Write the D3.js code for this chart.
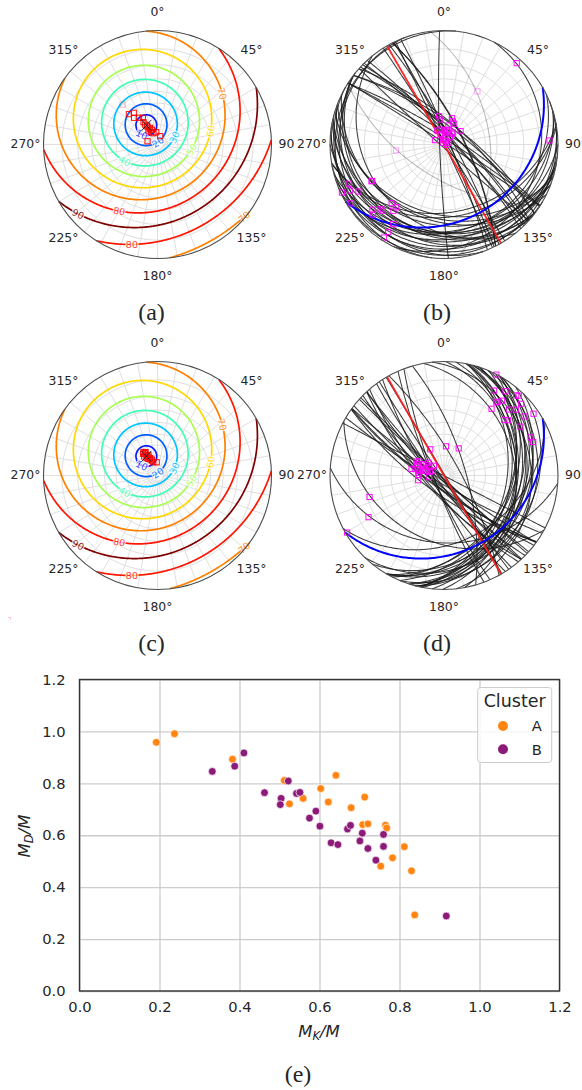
<!DOCTYPE html>
<head>
   <meta charset="utf-8">
   <script src="https://d3js.org/d3.v7.min.js"></script>
   <style>
   body{ margin: 0; background: #fff; }
   text{ font-family: "DejaVu Sans", sans-serif; fill: #262626; }
   text.angle{ font-size: 12.4px; text-anchor: middle; dominant-baseline: central; }
   text.caption{ font-family: "Liberation Serif", serif; font-size: 24px; text-anchor: middle; }
   text.clabel{ font-size: 9.5px; text-anchor: middle; dominant-baseline: central; opacity: 0.8;
      stroke: #fff; stroke-width: 2.5px; paint-order: stroke; }
   .tick text{ font-size: 14.7px; }
   .tick line{ stroke: #cccccc; stroke-width: 1.3px; }
   path.domain{ display: none; }
   </style>
</head>

<body>
   <script>
// pole of the fitted plane, used for the cross and the contours
const mainTrend = 330, mainColat = 22;
const redTrend = 60, redColat = 90;

// contours: cone angle round the pole, printed level, colour
const cones = [10, 20, 30, 40, 50, 60, 70, 80, 90, 100, 110];
const levels = [10, 20, 30, 40, 50, 60, 70, 80, 90, 80, 70];
const levelColors = ['#0a1cff', '#0060ff', '#00c4ff', '#40ffb4', '#a8ff50', '#ffd800', '#ff8000', '#ff1500', '#800000', '#ff1500', '#ff8000'];

// where the contour labels sit (index into cones, then trend / colatitude)
const labelCone = [0, 1, 2, 3, 4, 5, 6, 10, 7, 9, 8];
const labelTrend = [302.6, 0, 65, 243, 98.8, 76, 52, 130, 209.7, 194.3, 228.7];
const labelColat = [18.6, 3, 17.6, 36.2, 33.9, 50.9, 71.9, 88.9, 67.9, 84.6, 85.4];

const gridRings = [10, 20, 30, 40, 50, 60, 70, 80];
const gridSpokes = d3.range(0, 360, 10);
const angleLabels = [0, 45, 90, 135, 180, 225, 270, 315];

// (a) red squares
const aTrend = [318.8, 316.6, 323.2, 318.8, 325, 331.2, 328, 328, 331, 333, 333, 354, 18, 288, 330.7, 336, 327, 339, 340.6];
const aColat = [49.9, 40.2, 38.3, 34.6, 32, 29.9, 26, 23.3, 20.5, 17.6, 13.9, 12.4, 8.8, 10.5, 21.6, 18.2, 16.6, 15.7, 12];
const aFaint = [0];

// (c) red squares
const cTrend = [342.4, 356.5, 328, 330.6, 332, 334, 335, 338.6, 326.6, 329, 333, 337, 340, 325, 331, 336];
const cColat = [13.9, 13.3, 20.3, 25.4, 23, 20.8, 17.8, 15.9, 25.6, 27, 26, 19, 17, 23, 19, 22];
const cFaint = [];

// (b) plane poles, first the rim ones then the centre cluster
const bTrend = [41.8, 32.2, 87.8, 262.9, 243.1, 243.1, 247.6, 244.8, 243.9, 241.2, 237.8, 227.6, 225.5, 224.4, 222.8, 221.7, 217.3, 217.4, 212.5, 212.5, 212.8,
   350, 351, 17, 21, 13, 26, 0, 15, 36, 51, 334, 296, 342, 9, 338, 96, 39, 345, 30, 349, 70, 6, 11, 37, 20];
const bColat = [87.5, 57.6, 85.6, 46, 70.4, 71, 84.3, 89.4, 85.1, 81.1, 88.1, 80.7, 82.5, 76.9, 76.7, 69.2, 69.4, 72.4, 79.3, 84.6, 88.3,
   28.3, 25, 27.1, 24.5, 19.4, 22.9, 14, 12.7, 13.2, 21.2, 15.5, 10, 10.8, 6.4, 1.8, 2.7, 9.4, 15.5, 4, 5, 5, 9, 15, 15, 15];
const bFaint = [1, 3];

// (d) plane poles
const dTrend = [27.4, 30.5, 36.1, 42, 43.1, 47.1, 37.8, 36, 35.6, 35.5, 44.6, 47.5, 55.4, 53.7, 47.3, 49.2, 57.4, 66.2, 69.4,
   332.3, 3.9, 28.5, 253.9, 241.1, 239.5,
   297, 299.6, 281.6, 283.2, 298.7, 300.8, 300.6, 314, 292.4, 264, 259.7, 270.8, 282.3, 281, 287.5, 309, 293, 284.7, 276, 288, 284.5];
const dColat = [89.8, 81.7, 84.9, 86.8, 87.6, 85.5, 79.4, 77.3, 76.5, 71.4, 78.2, 81, 87.3, 82.4, 71.5, 73.1, 77, 79.4, 79.8,
   29.1, 28.8, 30.3, 68.4, 74.2, 89.2,
   30.3, 28.1, 32.4, 26.1, 23.5, 20.2, 17.1, 14, 12.3, 15.1, 25.9, 24.8, 29.3, 24.3, 20, 20.1, 28.7, 14.6, 25.6, 22.4, 18.6];
const dFaint = [];

// (e) scatter
const clusterNames = ['A', 'B'];
const clusterColors = ['#ff8411', '#8b1a78'];
const aX = [0.192, 0.2375, 0.3825, 0.512, 0.525, 0.641, 0.603, 0.559, 0.622, 0.713, 0.679, 0.708, 0.721, 0.765, 0.768, 0.812, 0.7825, 0.753, 0.83, 0.838];
const aY = [0.958, 0.991, 0.893, 0.811, 0.721, 0.831, 0.78, 0.742, 0.728, 0.747, 0.706, 0.641, 0.644, 0.639, 0.628, 0.556, 0.513, 0.481, 0.463, 0.293];
const bX = [0.332, 0.388, 0.411, 0.4625, 0.504, 0.502, 0.522, 0.5425, 0.551, 0.591, 0.575, 0.601, 0.67, 0.6775, 0.707, 0.701, 0.721, 0.629, 0.646, 0.76, 0.76, 0.741, 0.917];
const bY = [0.846, 0.866, 0.917, 0.764, 0.742, 0.718, 0.809, 0.761, 0.765, 0.693, 0.666, 0.635, 0.624, 0.638, 0.608, 0.578, 0.549, 0.571, 0.564, 0.603, 0.557, 0.504, 0.289];
const xTicks = [0, 0.2, 0.4, 0.6, 0.8, 1.0, 1.2];
const yTicks = [0, 0.2, 0.4, 0.6, 0.8, 1.0, 1.2];

const rad = Math.PI / 180;
const R = 114;

var svg = d3.select("body").append("svg")
   .attr("width", 582)
   .attr("height", 1090)
   .style("display", "block");

// stereographic projection, the unit disc is the lower hemisphere
const rScale = d3.scaleLinear().domain([0, 1]).range([0, R]);
const stereo = colat => rScale(Math.tan(colat * rad / 2));

const unit = (trend, colat) => [
   Math.sin(colat * rad) * Math.sin(trend * rad),
   Math.sin(colat * rad) * Math.cos(trend * rad),
   Math.cos(colat * rad)
];
const cross = (a, b) => [a[1] * b[2] - a[2] * b[1], a[2] * b[0] - a[0] * b[2], a[0] * b[1] - a[1] * b[0]];

const toPolar = v => ({
   a: Math.atan2(v[0], v[1]),
   r: rScale(Math.tan(Math.acos(Math.min(1, Math.max(-1, v[2]))) / 2)),
   z: v[2]
});

const radial = d3.lineRadial()
   .angle(d => d.a)
   .radius(d => d.r)
   .defined(d => d.z >= -1e-9);

// half of a great circle above the horizon
function greatCircle(trend, colat) {
   const n = unit(trend, colat);
   const u = [Math.cos(trend * rad), -Math.sin(trend * rad), 0];
   let v = cross(n, u);
   if (v[2] < 0) v = v.map(c => -c);
   return d3.range(0, 180.5, 1).map(t => toPolar(
      u.map((c, i) => Math.cos(t * rad) * c + Math.sin(t * rad) * v[i])));
}

function smallCircle(trend, colat, cone) {
   const n = unit(trend, colat);
   const e1 = [Math.cos(trend * rad), -Math.sin(trend * rad), 0];
   const e2 = cross(n, e1);
   return d3.range(0, 360.25, 0.5).map(p => toPolar(n.map((c, i) =>
      Math.cos(cone * rad) * c + Math.sin(cone * rad) * (Math.cos(p * rad) * e1[i] + Math.sin(p * rad) * e2[i]))));
}

function base(cx, cy) {
   const g = svg.append('g').attr('transform', `translate(${cx},${cy})`);

   // each panel hides what the panel on its left drew past its edge
   g.append('rect').attr('x', -149).attr('y', -144).attr('width', 298).attr('height', 310).attr('fill', '#fff');

   g.selectAll('circle.ring').data(gridRings).enter().append('circle')
      .attr('class', 'ring')
      .attr('r', d => stereo(d))
      .attr('fill', 'none').attr('stroke', '#dfdfdf').attr('stroke-width', 1);

   g.selectAll('line.spoke').data(gridSpokes).enter().append('line')
      .attr('class', 'spoke')
      .attr('x1', d => d3.pointRadial(d * rad, stereo(5))[0])
      .attr('y1', d => d3.pointRadial(d * rad, stereo(5))[1])
      .attr('x2', d => d3.pointRadial(d * rad, R)[0])
      .attr('y2', d => d3.pointRadial(d * rad, R)[1])
      .attr('stroke', '#dfdfdf').attr('stroke-width', 1);

   g.selectAll('text.angle').data(angleLabels).enter().append('text')
      .attr('class', 'angle')
      .attr('x', d => d3.pointRadial(d * rad, d % 90 ? 133 : 132)[0])
      .attr('y', d => d3.pointRadial(d * rad, d % 90 ? 133 : 132)[1] - 0.8)
      .text(d => d + '°');

   return g;
}

function border(g) {
   g.append('circle').attr('r', R).attr('fill', 'none').attr('stroke', '#4d4d4d').attr('stroke-width', 1.1);
}

function squares(g, trend, colat, faint, color, faintOpacity) {
   g.selectAll('rect.pole').data(trend).enter().append('rect')
      .attr('class', 'pole')
      .attr('x', (d, i) => d3.pointRadial(d * rad, stereo(colat[i]))[0] - 2.6)
      .attr('y', (d, i) => d3.pointRadial(d * rad, stereo(colat[i]))[1] - 2.6)
      .attr('width', 5.2).attr('height', 5.2)
      .attr('fill', 'none')
      .attr('stroke', color).attr('stroke-width', 1)
      .attr('opacity', (d, i) => faint.includes(i) ? faintOpacity : 0.95);
}

function contourPanel(cx, cy, trend, colat, faint, caption) {
   const g = base(cx, cy);
   const paths = cones.map(c => smallCircle(mainTrend, mainColat, c));

   g.selectAll('path.contour').data(paths).enter().append('path')
      .attr('class', 'contour')
      .attr('d', radial)
      .attr('fill', 'none')
      .attr('stroke', (d, i) => levelColors[i])
      .attr('stroke-width', 1.7);

   labelCone.forEach((c, i) => {
      // snap the label to its contour and turn it along the line
      const p = d3.pointRadial(labelTrend[i] * rad, stereo(labelColat[i]));
      const pts = paths[c].filter(d => d.z >= 0);
      const at = d3.least(pts, d => {
         const q = d3.pointRadial(d.a, d.r);
         return (q[0] - p[0]) ** 2 + (q[1] - p[1]) ** 2;
      });
      const k = pts.indexOf(at);
      const q0 = d3.pointRadial(pts[Math.max(0, k - 1)].a, pts[Math.max(0, k - 1)].r);
      const q1 = d3.pointRadial(pts[Math.min(pts.length - 1, k + 1)].a, pts[Math.min(pts.length - 1, k + 1)].r);
      let ang = Math.atan2(q1[1] - q0[1], q1[0] - q0[0]) / rad;
      if (ang > 90) ang -= 180;
      if (ang < -90) ang += 180;
      const q = d3.pointRadial(at.a, at.r);
      g.append('text').attr('class', 'clabel')
         .attr('transform', `translate(${q[0]},${q[1]}) rotate(${ang})`)
         .style('fill', levelColors[c])
         .text(levels[c]);
   });

   squares(g, trend, colat, faint, '#ff0000', 0.3);

   const pc = d3.pointRadial(mainTrend * rad, stereo(mainColat));
   g.append('path')
      .attr('d', `M${pc[0] - 5},${pc[1] - 5.5}L${pc[0] + 5},${pc[1] + 5.5}M${pc[0] - 5},${pc[1] + 5.5}L${pc[0] + 5},${pc[1] - 5.5}`)
      .attr('stroke', '#222').attr('stroke-width', 1).attr('fill', 'none');

   border(g);
   g.append('text').attr('class', 'caption').attr('x', -6).attr('y', 175).text(caption);
}

function planePanel(cx, cy, trend, colat, faint, caption) {
   const g = base(cx, cy);

   g.selectAll('path.plane').data(trend).enter().append('path')
      .attr('class', 'plane')
      .attr('d', (d, i) => radial(greatCircle(d, colat[i])))
      .attr('fill', 'none')
      .attr('stroke', '#1a1a1a')
      .attr('stroke-width', 1.05)
      .attr('opacity', (d, i) => faint.includes(i) ? 0.3 : 0.85);

   g.append('path')
      .attr('d', radial(greatCircle(redTrend, redColat)))
      .attr('fill', 'none').attr('stroke', '#ff1a1a').attr('stroke-width', 1.9).attr('opacity', 0.9);

   g.append('path')
      .attr('d', radial(greatCircle(mainTrend, mainColat)))
      .attr('fill', 'none').attr('stroke', '#0000ff').attr('stroke-width', 2);

   squares(g, trend, colat, faint, '#ff00ff', 0.35);

   border(g);
   g.append('text').attr('class', 'caption').attr('x', -7).attr('y', 175).text(caption);
}

contourPanel(157.5, 144.5, aTrend, aColat, aFaint, '(a)');
planePanel(444, 144.5, bTrend, bColat, bFaint, '(b)');
contourPanel(157.5, 475.5, cTrend, cColat, cFaint, '(c)');
planePanel(444, 475.5, dTrend, dColat, dFaint, '(d)');

// small stray mark in the page margin
svg.append('path').attr('d', 'M8,617.5H10.5V620').attr('fill', 'none').attr('stroke', '#f9b8c8').attr('stroke-width', 0.8);

// scatter
const margin = { left: 79.5, right: 559.5, top: 679.5, bottom: 991 };
const x = d3.scaleLinear().domain([0, 1.2]).range([margin.left, margin.right]);
const y = d3.scaleLinear().domain([0, 1.2]).range([margin.bottom, margin.top]);

const xAxis = d3.axisBottom(x).tickValues(xTicks).tickFormat(d3.format('.1f'))
   .tickSize(-(margin.bottom - margin.top)).tickPadding(11);
const yAxis = d3.axisLeft(y).tickValues(yTicks).tickFormat(d3.format('.1f'))
   .tickSize(-(margin.right - margin.left)).tickPadding(14);

svg.append('g').attr('transform', `translate(0,${margin.bottom})`).call(xAxis);
svg.append('g').attr('transform', `translate(${margin.left},0)`).call(yAxis);

const scatter = [
   { xs: aX, ys: aY, color: clusterColors[0] },
   { xs: bX, ys: bY, color: clusterColors[1] }
];
scatter.forEach(s => {
   svg.append('g').selectAll('circle').data(s.xs).enter().append('circle')
      .attr('cx', d => x(d))
      .attr('cy', (d, i) => y(s.ys[i]))
      .attr('r', 3.9)
      .attr('fill', s.color)
      .attr('stroke', '#fff').attr('stroke-width', 0.7);
});

svg.append('rect')
   .attr('x', margin.left).attr('y', margin.top)
   .attr('width', margin.right - margin.left).attr('height', margin.bottom - margin.top)
   .attr('fill', 'none').attr('stroke', '#333').attr('stroke-width', 1.4);

// legend
const legend = svg.append('g');
legend.append('rect')
   .attr('x', 477.7).attr('y', 687.5).attr('width', 74).attr('height', 75).attr('rx', 3)
   .attr('fill', '#fff').attr('fill-opacity', 0.8).attr('stroke', '#cccccc').attr('stroke-width', 1);
legend.append('text').attr('x', 514.7).attr('y', 706.5).attr('text-anchor', 'middle')
   .style('font-size', '17.5px').text('Cluster');
clusterNames.forEach((n, i) => {
   const ly = 726 + i * 23.3;
   legend.append('circle').attr('cx', 503).attr('cy', ly).attr('r', 5).attr('fill', clusterColors[i]);
   legend.append('text').attr('x', 536.7).attr('y', ly + 5.2).attr('text-anchor', 'middle')
      .style('font-size', '14.7px').text(n);
});

// axis titles
const xTitle = svg.append('text').attr('x', 319).attr('y', 1037).attr('text-anchor', 'middle').style('font-size', '16.5px');
xTitle.append('tspan').style('font-style', 'italic').text('M');
xTitle.append('tspan').attr('dy', 3).style('font-size', '11.5px').style('font-style', 'italic').text('K');
xTitle.append('tspan').attr('dy', -3).style('font-style', 'italic').text('/M');

const yTitle = svg.append('text').attr('transform', 'translate(30,836) rotate(-90)').attr('text-anchor', 'middle').style('font-size', '16.5px');
yTitle.append('tspan').style('font-style', 'italic').text('M');
yTitle.append('tspan').attr('dy', 3).style('font-size', '11.5px').style('font-style', 'italic').text('D');
yTitle.append('tspan').attr('dy', -3).style('font-style', 'italic').text('/M');

svg.append('text').attr('class', 'caption').attr('x', 298).attr('y', 1082).text('(e)');
   </script>
</body>
